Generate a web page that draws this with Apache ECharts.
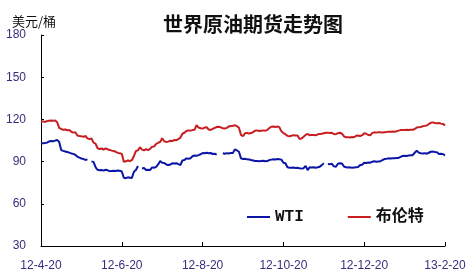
<!DOCTYPE html>
<html>
<head>
<meta charset="utf-8">
<script src="https://cdn.jsdelivr.net/npm/echarts@6/dist/echarts.min.js"></script>
<style>html,body{margin:0;padding:0;background:#fff}#c{width:472px;height:279px}</style>
</head>
<body>
<div id="c"></div>
<script>
// x-axis tick labels (every 40 data steps)
const tickLabels = ['12-4-20','12-6-20','12-8-20','12-10-20','12-12-20','13-2-20'];
const seriesNames = ['WTI','布伦特'];
const yTicks = [30, 60, 90, 120, 150, 180];

const wti = [
102.8,103.0,103.2,103.5,104.3,104.6,104.4,104.9,105.4,104.0,
98.2,97.6,97.2,96.8,96.4,95.8,95.5,94.8,93.5,92.8,
92.2,91.8,91.2,91.6,null,90.0,89.8,86.0,84.2,83.8,
84.0,83.6,84.2,83.8,83.2,83.4,83.5,83.3,83.6,83.5,
83.0,78.5,78.2,78.8,78.6,78.4,82.8,84.0,86.9,null,
85.1,85.4,84.0,84.2,84.0,85.9,85.6,86.2,88.0,90.4,
89.2,89.0,88.0,87.6,87.9,88.8,88.6,88.9,88.2,87.6,
90.8,91.1,92.3,92.0,92.4,93.8,94.3,94.1,94.6,95.2,
96.1,96.0,96.3,95.9,96.1,95.4,95.6,95.0,null,null,
95.9,95.6,96.0,95.8,96.2,96.1,98.7,97.9,97.0,92.3,
91.8,92.0,91.6,91.5,91.1,90.8,90.4,90.5,90.2,90.4,
90.6,90.3,90.4,91.1,91.4,91.6,91.5,91.8,91.6,91.4,
89.2,88.8,86.0,85.7,85.6,85.8,85.5,85.6,85.2,85.0,
85.3,87.0,84.0,85.9,85.8,86.0,85.7,86.0,86.4,87.5,
88.8,null,88.3,88.2,88.4,86.6,86.4,88.5,88.8,88.6,
86.5,85.9,85.8,85.9,85.7,85.8,85.9,86.2,87.6,87.8,
89.2,89.0,89.3,89.2,89.9,90.2,89.9,90.1,90.3,91.0,
91.8,92.0,92.3,92.2,92.4,92.3,92.5,92.6,93.4,94.0,
94.1,94.0,94.3,94.5,94.6,96.3,97.7,96.4,95.9,95.8,
96.0,95.6,96.3,97.0,97.1,96.8,96.6,95.4,95.6,95.3,
94.5
];

const brent = [
118.4,118.6,118.2,118.8,119.0,119.2,119.0,119.3,118.0,114.0,
113.2,112.6,112.8,112.3,112.5,111.2,110.6,110.8,108.5,108.2,
108.0,107.6,108.2,106.5,106.0,106.4,103.5,102.8,99.5,99.0,
99.3,98.6,99.4,98.8,98.2,97.8,97.5,97.0,96.2,95.9,
95.5,89.9,90.2,90.8,90.4,91.0,94.0,97.5,98.0,100.2,
98.5,98.0,98.8,98.2,99.0,100.6,100.8,102.5,103.4,104.0,
106.6,104.5,104.0,104.2,104.8,104.6,105.4,105.2,106.0,107.0,
109.8,110.5,111.8,112.2,112.0,112.4,112.6,116.0,114.2,113.7,
113.5,114.2,114.4,112.8,112.5,113.2,114.0,114.6,114.8,114.3,
113.7,113.5,114.0,115.0,115.3,115.5,115.8,115.2,114.0,109.0,
108.0,110.1,110.4,110.0,110.3,111.0,112.0,112.2,111.8,112.0,
112.2,112.0,112.4,113.8,114.8,115.0,114.6,114.9,114.5,111.5,
110.3,109.5,108.3,108.0,108.4,108.8,108.5,108.6,106.0,106.5,
107.7,109.0,109.6,108.8,109.0,108.9,108.7,109.4,109.6,109.8,
110.2,110.5,110.6,110.4,110.5,109.6,109.5,110.2,110.5,109.8,
108.0,107.3,107.4,107.2,107.5,107.3,108.4,108.6,108.2,108.8,
110.1,109.8,108.9,108.7,110.4,110.8,110.6,110.8,110.9,110.7,
110.9,111.0,111.3,111.2,111.4,111.3,111.5,112.0,112.4,112.5,
112.4,112.6,112.5,112.7,112.6,113.2,114.2,114.5,114.6,115.2,
115.4,115.6,116.8,117.6,117.9,117.5,117.3,117.4,117.0,116.8,
115.8
];

const STEP = 40;
const toPairs = arr => arr.map((v, i) => [i, v]);

const chart = echarts.init(document.getElementById('c'), null, {renderer: 'canvas'});
const labelColor = '#3e2a7c';
chart.setOption({
  animation: false,
  backgroundColor: '#fff',
  title: [
    {text: '世界原油期货走势图', left: 158, top: 9,
     textStyle: {fontFamily: 'Noto Sans CJK SC', fontSize: 20, fontWeight: 'bold', color: '#111'}},
    {text: '美元/桶', left: 7, top: 10,
     textStyle: {fontFamily: 'Noto Sans CJK SC', fontSize: 13, fontWeight: 'normal', color: '#111'}}
  ],
  legend: {
    left: 247, top: 209, padding: 0,
    itemWidth: 23, itemHeight: 2, itemGap: 44,
    icon: 'rect',
    data: seriesNames,
    textStyle: {fontFamily: 'Liberation Mono, Noto Sans CJK SC', fontSize: 16, fontWeight: 'bold', color: '#111'}
  },
  grid: {left: 41, right: 27, top: 35, bottom: 33, containLabel: false},
  xAxis: {
    type: 'value', min: 0, max: STEP * (tickLabels.length - 1), interval: STEP,
    axisLine: {show: true, lineStyle: {color: '#000', width: 1}},
    axisTick: {show: true, inside: true, length: 4, lineStyle: {color: '#000'}},
    splitLine: {show: false},
    axisLabel: {
      margin: 14, fontSize: 12, fontFamily: 'Liberation Sans, Arial', color: labelColor,
      showMinLabel: true, showMaxLabel: true,
      formatter: v => tickLabels[Math.round(v / STEP)] || ''
    }
  },
  yAxis: {
    type: 'value', min: yTicks[0], max: yTicks[yTicks.length - 1], interval: 30,
    axisLine: {show: true, lineStyle: {color: '#000', width: 1}},
    axisTick: {show: true, inside: true, length: 3, lineStyle: {color: '#000'}},
    splitLine: {show: false},
    axisLabel: {margin: 15, fontSize: 12, fontFamily: 'Liberation Sans, Arial', color: labelColor}
  },
  series: [
    {name: seriesNames[0], type: 'line', data: toPairs(wti), symbol: 'none', connectNulls: false,
     itemStyle: {color: '#0c16a6'}, lineStyle: {color: '#0c16a6', width: 2}},
    {name: seriesNames[1], type: 'line', data: toPairs(brent), symbol: 'none', connectNulls: false,
     itemStyle: {color: '#c81e22'}, lineStyle: {color: '#c81e22', width: 2}}
  ]
});
</script>
</body>
</html>
